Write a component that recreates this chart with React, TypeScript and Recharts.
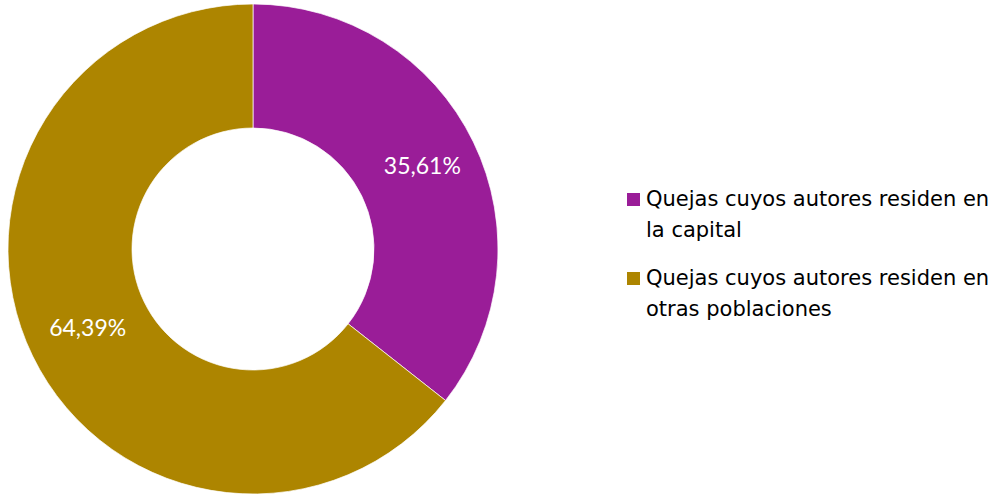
import React from "react";
import { PieChart, Pie, Cell, Legend } from "recharts";

// data
const categories = [
  "Quejas cuyos autores residen en la capital",
  "Quejas cuyos autores residen en otras poblaciones",
];
const shares = [35.61, 64.39];
const colors = ["#9A1D98", "#AD8500"];

const data = categories.map((name, i) => ({ name, value: shares[i] }));

const RAD = Math.PI / 180;

function renderLabel(props: any) {
  const { cx, cy, midAngle, value } = props;
  const r = 186;
  const x = cx + r * Math.cos(-midAngle * RAD) + 2;
  const y = cy + r * Math.sin(-midAngle * RAD) - 3;
  return (
    <text
      x={x}
      y={y}
      fill="#fff"
      textAnchor="middle"
      dominantBaseline="central"
      style={{ fontFamily: "Lato, 'Open Sans', sans-serif", fontSize: 23 }}
    >
      {value.toFixed(2).replace(".", ",") + "%"}
    </text>
  );
}

function renderLegend(props: any) {
  const { payload } = props;
  return (
    <div style={{ fontFamily: "'DejaVu Sans', sans-serif", fontSize: 21, color: "#000" }}>
      {payload.map((entry: any, i: number) => (
        <div key={i} style={{ display: "flex", alignItems: "flex-start", marginBottom: 17 }}>
          <div style={{ width: 13, height: 13, background: colors[i], marginTop: 9, marginRight: 6, flexShrink: 0 }} />
          <div style={{ width: 350, lineHeight: "31px" }}>{entry.value}</div>
        </div>
      ))}
    </div>
  );
}

export default function App() {
  return (
    <div style={{ position: "absolute", left: 0, top: 0, width: 998, height: 495, background: "#fff" }}>
      <PieChart width={998} height={495} margin={{ top: 0, right: 0, bottom: 0, left: 0 }}>
        <Pie
          data={data}
          dataKey="value"
          nameKey="name"
          cx={253}
          cy={249}
          outerRadius={245}
          innerRadius={121}
          startAngle={90}
          endAngle={-270}
          stroke="#fff"
          strokeWidth={0.7}
          label={renderLabel}
          labelLine={false}
          isAnimationActive={false}
        >
          {data.map((d, i) => (
            <Cell key={d.name} fill={colors[i]} />
          ))}
        </Pie>
        <Legend
          content={renderLegend}
          layout="vertical"
          wrapperStyle={{ position: "absolute", left: 627, top: 184, width: 371 }}
        />
      </PieChart>
    </div>
  );
}
